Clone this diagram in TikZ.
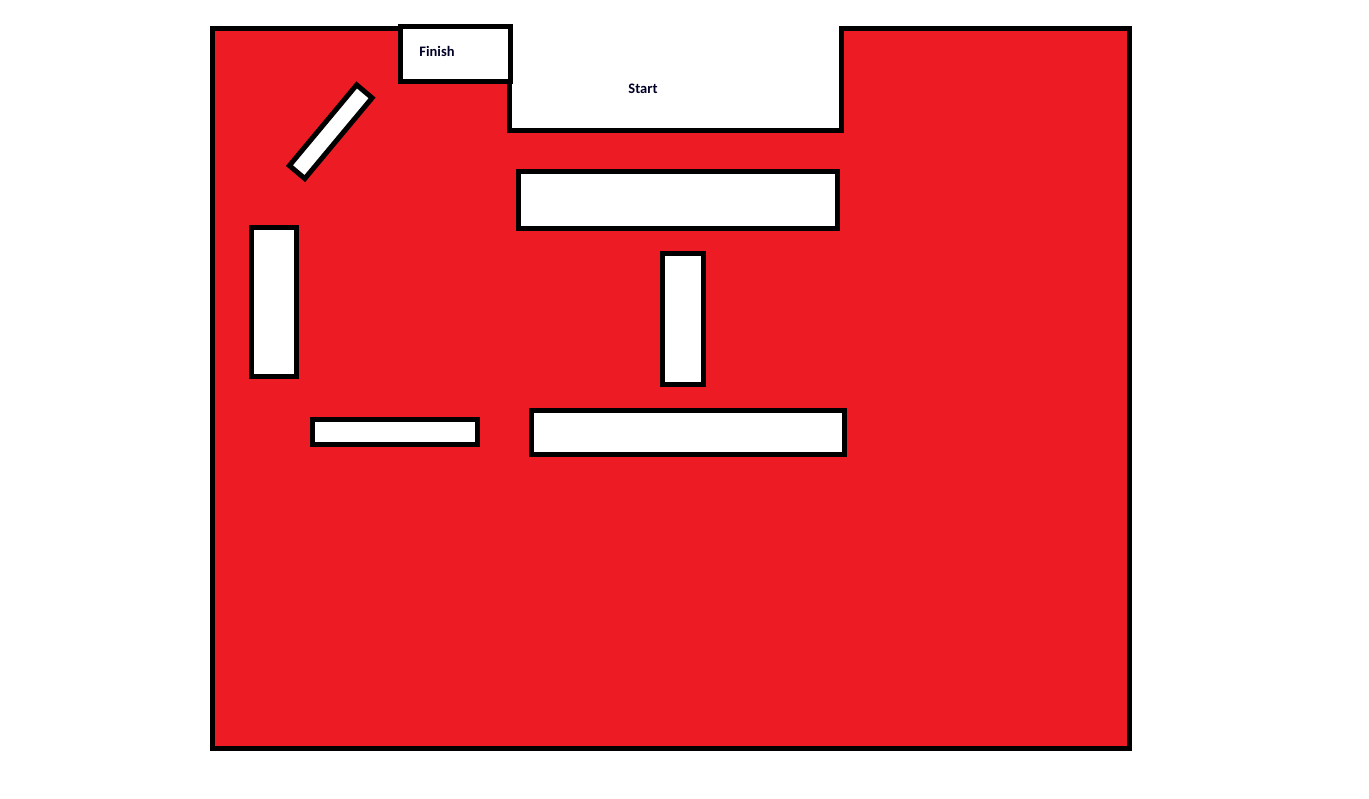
\documentclass[tikz,border=0pt]{standalone}
\usepackage{fontspec}
\setmainfont{Carlito}
\definecolor{paintred}{HTML}{ED1C24}
\begin{document}
\begin{tikzpicture}[x=1pt,y=-1pt,line width=5pt,
  wall/.style={draw=black,fill=white},
  lbl/.style={font=\bfseries\fontsize{14.5}{17}\selectfont,text=black!85!blue,inner sep=0pt}]
\useasboundingbox (0,0) rectangle (1369,799);
% floor
\filldraw[fill=paintred,draw=black] (212,28.5) -- (400.5,28.5) -- (400.5,82) -- (509.5,82) -- (509.5,130.5)
  -- (841.5,130.5) -- (841.5,28.5) -- (1129.5,28.5) -- (1129.5,748.5) -- (212,748.5) -- cycle;
% finish box
\draw[wall] (400.5,27) rectangle (510.5,82);
\node[lbl] (finish) at (437,51) {Finish};
\node[lbl] (start) at (643,88.5) {Start};
% obstacles
\draw[wall] (372.1,97.9) -- (356.7,84.9) -- (289.4,165.6) -- (304.8,178.6) -- cycle;
\draw[wall] (518.5,171.5) rectangle (837.5,229);
\draw[wall] (251.5,227.5) rectangle (296.5,376.5);
\draw[wall] (662.5,253.5) rectangle (703.5,385);
\draw[wall] (312.5,419.5) rectangle (477.5,444.5);
\draw[wall] (531.5,410.5) rectangle (844.5,454.5);
\end{tikzpicture}
\end{document}
